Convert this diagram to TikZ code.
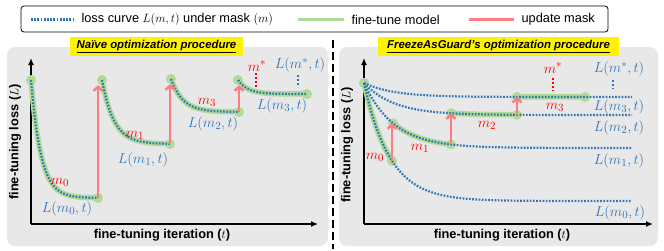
\documentclass[tikz,border=0pt]{standalone}
\usepackage{fontspec}
\setmainfont{Liberation Sans}
\usetikzlibrary{arrows.meta}
\definecolor{lossblue}{RGB}{46,117,182}
\definecolor{tunegreen}{RGB}{176,218,150}
\definecolor{maskred}{RGB}{255,124,128}
\definecolor{panelgray}{RGB}{232,232,232}
\definecolor{markred}{RGB}{255,0,0}

\begin{document}
\begin{tikzpicture}[x=1pt, y=-1pt,
    panel/.style={fill=panelgray, rounded corners=8pt},
    ttl/.style={fill=yellow, minimum height=19pt, inner sep=0pt,
              font=\fontsize{11.4}{13}\selectfont\bfseries\itshape},
    axis/.style={-{Latex[length=7pt,width=6pt]}, line width=1.3pt},
    axlab/.style={font=\fontsize{12.8}{14}\selectfont\bfseries},
    loss/.style={draw=lossblue, line width=2.2pt, dash pattern=on 1.7pt off 1.5pt},
    tune/.style={draw=tunegreen, line width=5.5pt},
    upd/.style={draw=maskred, line width=2.4pt, -{Straight Barb[length=4pt,width=9pt]}},
    dot/.style={circle, fill=tunegreen, minimum size=10pt, inner sep=0pt},
    lname/.style={font=\fontsize{15}{17}\selectfont, text=lossblue},
    mname/.style={font=\fontsize{15}{17}\selectfont, text=markred},
    legtxt/.style={font=\fontsize{12.8}{14}\selectfont, anchor=west},
    tick/.style={line width=2pt, dash pattern=on 2pt off 2pt}]
  \useasboundingbox (0,0) rectangle (664,250);

  % ---------- (1) legend ----------------------------------------------------
  \node[draw=black, line width=0.8pt, rounded corners=3pt, minimum width=587pt,
        minimum height=26pt] (legend) at (314.5,19) {};
  \draw[loss] (31,19.5) -- (73,19.5);
  \node[legtxt] (legloss) at (78,19.5) {loss curve $L(m,t)$ under mask $(m)$};
  \draw[tune, line width=3.5pt] (298,19.5) -- (344,19.5);
  \node[legtxt] (legtune) at (348,19.5) {fine-tune model};
  \draw[maskred, line width=3.5pt] (469,19.5) -- (514,19.5);
  \node[legtxt] (legupd) at (518,19.5) {update mask};

  % ---------- (2) panels ----------------------------------------------------
  \fill[panel] (7,47) rectangle (328,246);
  \fill[panel] (339,47) rectangle (658,246);
  \draw[line width=2pt, dash pattern=on 8pt off 4pt] (333,40) -- (333,249);
  \node[ttl, minimum width=173pt] (ttlA) at (156.5,46.5)
    {\underline{Naïve optimization procedure}};
  \node[ttl, minimum width=241pt] (ttlB) at (498.5,46.5)
    {\underline{FreezeAsGuard's optimization procedure}};

  % ---------- (3) naive: restart after every mask update --------------------
  \coordinate (oA) at (31,224);
  \coordinate (yA) at (31,58);
  \coordinate (xA) at (318,224);
  \draw[axis] (oA) -- (yA);
  \draw[axis] (oA) -- (xA);
  \node[axlab, rotate=90] (ylabA) at (15,142) {fine-tuning loss ($L$)};
  \node[axlab] (xlabA) at (162,235) {fine-tuning iteration ($t$)};

  \foreach \i/\xs/\ys/\xe/\ye/\tc in {0/31/80/98/198/10, 1/102/80/170/144/12,
                                      2/171/79/239/112/12, 3/238/80/307/94/10} {
    \node[dot] (s\i) at (\xs,\ys) {};
    \node[dot] (e\i) at (\xe,\ye) {};
    \draw[tune] plot[domain=\xs:\xe, samples=70] (\x, {\ye-(\ye-\ys)*exp(-(\x-\xs)/\tc)});
    \draw[loss] plot[domain=\xs:\xe, samples=70] (\x, {\ye-(\ye-\ys)*exp(-(\x-\xs)/\tc)});
  }
  \foreach \i/\j in {0/1,1/2,2/3} { \draw[upd] (e\i.center) -- (e\i.center |- s\j.south); }

  \node[mname] (mA0) at (60,182) {$m_0$};
  \node[mname] (mA1) at (135,135) {$m_1$};
  \node[mname] (mA3) at (207,102) {$m_3$};
  \node[mname] (mAs) at (257,66) {$m^{*}$};
  \node[lname] (LA0) at (67,209) {$L(m_0,t)$};
  \node[lname] (LA1) at (143,160) {$L(m_1,t)$};
  \node[lname] (LA2) at (213,124) {$L(m_2,t)$};
  \node[lname] (LA3) at (282,106) {$L(m_3,t)$};
  \node[lname] (LAs) at (300,65) {$L(m^{*},t)$};
  \draw[tick, markred] (256,73) -- (256,88);
  \draw[tick, lossblue] (298,75) -- (298,87);

  % ---------- (4) FreezeAsGuard: keep going on the next curve ----------------
  \coordinate (oB) at (364,224);
  \coordinate (yB) at (364,58);
  \coordinate (xB) at (653,224);
  \draw[axis] (oB) -- (yB);
  \draw[axis] (oB) -- (xB);
  \node[axlab, rotate=90] (ylabB) at (347,145) {fine-tuning loss ($L$)};
  \node[axlab] (xlabB) at (502,235) {fine-tuning iteration ($t$)};

  \node[dot] (start) at (364,83) {};
  \foreach \i/\yi/\tc/\ga/\gb in {0/201/26/364/392, 1/148/30/393/451,
                                  2/115/30/451/517, 3/97/30/517/585} {
    \node[dot] (g\i a) at (\ga, {\yi-(\yi-83)*exp(-(\ga-364)/\tc)}) {};
    \node[dot] (g\i b) at (\gb, {\yi-(\yi-83)*exp(-(\gb-364)/\tc)}) {};
    \draw[tune] plot[domain=\ga:\gb, samples=40] (\x, {\yi-(\yi-83)*exp(-(\x-364)/\tc)});
  }
  \foreach \i/\yi/\tc in {0/201/26, 1/148/30, 2/115/30, 3/97/30} {
    \draw[loss] plot[domain=364:632, samples=120] (\x, {\yi-(\yi-83)*exp(-(\x-364)/\tc)});
  }
  \foreach \i/\j in {0/1,1/2,2/3} { \draw[upd] (g\i b.center) -- (g\i b.center |- g\j a.center); }

  \node[mname] (mB0) at (375,157) {$m_0$};
  \node[mname] (mB1) at (420,148) {$m_1$};
  \node[mname] (mB2) at (487,125) {$m_2$};
  \node[mname] (mB3) at (555,107) {$m_3$};
  \node[mname] (mBs) at (553,68) {$m^{*}$};
  \node[lname] (LB0) at (620,213) {$L(m_0,t)$};
  \node[lname] (LB1) at (619,161) {$L(m_1,t)$};
  \node[lname] (LB2) at (619,128) {$L(m_2,t)$};
  \node[lname] (LB3) at (619,107) {$L(m_3,t)$};
  \node[lname] (LBs) at (619,69) {$L(m^{*},t)$};
  \draw[tick, markred] (553,78) -- (553,91);
  \draw[tick, lossblue] (613,80) -- (613,89);
\end{tikzpicture}
\end{document}
